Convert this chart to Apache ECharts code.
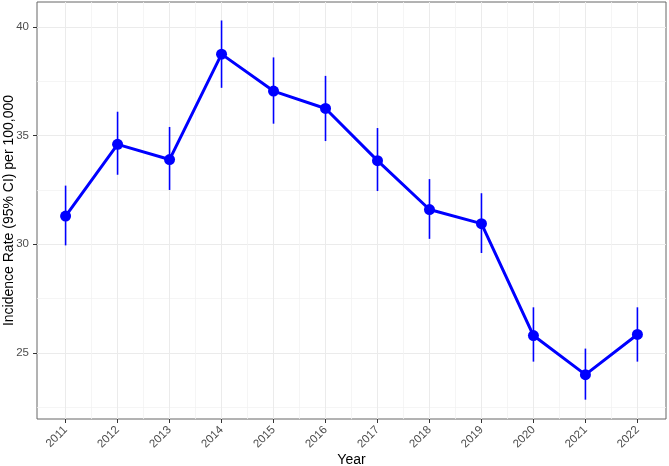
<!DOCTYPE html>
<html>
<head>
<meta charset="utf-8">
<script src="https://cdn.jsdelivr.net/npm/echarts@6/dist/echarts.min.js"></script>
<style>
  html, body { margin: 0; padding: 0; background: #fff; }
  #chart { width: 669px; height: 466px; }
</style>
</head>
<body>
<div id="chart"></div>
<script>
const years = [2011, 2012, 2013, 2014, 2015, 2016, 2017, 2018, 2019, 2020, 2021, 2022]
const rate = [31.3, 34.6, 33.9, 38.75, 37.05, 36.25, 33.85, 31.6, 30.95, 25.8, 24.0, 25.85]
const lower = [29.95, 33.2, 32.5, 37.2, 35.55, 34.75, 32.45, 30.25, 29.6, 24.6, 22.85, 24.6]
const upper = [32.7, 36.1, 35.4, 40.3, 38.6, 37.75, 35.35, 33.0, 32.35, 27.1, 25.2, 27.1]
const yTicks = [25, 30, 35, 40]
const yMinor = [22.5, 27.5, 32.5, 37.5]
const xMinor = years.slice(0, -1).map(y => y + 0.5)

const gridLine = { show: true, lineStyle: { color: '#ebebeb', width: 1 } }
const minorLine = { show: true, lineStyle: { color: '#f2f2f2', width: 0.8 } }
const textFont = 'Liberation Sans, Arial, sans-serif'

const option = {
  animation: false,
  grid: {
    left: 37, right: 3, top: 2, bottom: 47,
    outerBoundsMode: 'none', containLabel: false,
    show: true, borderColor: '#666', borderWidth: 1, z: 0
  },
  xAxis: [
    {
      type: 'value',
      min: 2010.45,
      max: 2022.55,
      name: 'Year',
      nameLocation: 'middle',
      nameMoveOverlap: false,
      nameGap: 34,
      nameTextStyle: { color: '#000', fontSize: 14, fontFamily: textFont },
      axisLine: { show: false },
      axisTick: { show: true, length: 4, customValues: years, lineStyle: { color: '#333' } },
      axisLabel: {
        customValues: years,
        rotate: 45,
        color: '#4d4d4d',
        fontSize: 11.5,
        fontFamily: textFont,
        margin: 9,
        formatter: v => String(v)
      },
      splitLine: gridLine
    },
    {
      type: 'value',
      min: 2010.45,
      max: 2022.55,
      position: 'bottom',
      axisLine: { show: false },
      axisTick: { show: false, customValues: xMinor },
      axisLabel: { show: false, customValues: xMinor },
      splitLine: minorLine
    }
  ],
  yAxis: [
    {
      type: 'value',
      min: 21.96,
      max: 41.15,
      name: 'Incidence Rate (95% CI) per 100,000',
      nameLocation: 'middle',
      nameMoveOverlap: false,
      nameGap: 21,
      nameTextStyle: { color: '#000', fontSize: 14, fontFamily: textFont },
      axisLine: { show: false },
      axisTick: { show: true, length: 4, customValues: yTicks, lineStyle: { color: '#333' } },
      axisLabel: { customValues: yTicks, color: '#4d4d4d', fontSize: 11.5, fontFamily: textFont, margin: 8 },
      splitLine: gridLine
    },
    {
      type: 'value',
      min: 21.96,
      max: 41.15,
      position: 'left',
      axisLine: { show: false },
      axisTick: { show: false, customValues: yMinor },
      axisLabel: { show: false, customValues: yMinor },
      splitLine: minorLine
    }
  ],
  series: [
    {
      type: 'custom',
      xAxisIndex: 0,
      yAxisIndex: 0,
      data: years.map((y, i) => [y, lower[i], upper[i]]),
      renderItem: (params, api) => {
        const p1 = api.coord([api.value(0), api.value(1)])
        const p2 = api.coord([api.value(0), api.value(2)])
        return {
          type: 'line',
          shape: { x1: p1[0], y1: p1[1], x2: p2[0], y2: p2[1] },
          style: { stroke: '#0000ff', lineWidth: 1.6 }
        }
      },
      z: 3
    },
    {
      type: 'line',
      xAxisIndex: 0,
      yAxisIndex: 0,
      data: years.map((y, i) => [y, rate[i]]),
      symbol: 'circle',
      symbolSize: 11,
      itemStyle: { color: '#0000ff' },
      lineStyle: { color: '#0000ff', width: 3 },
      z: 4
    }
  ]
}

const chart = echarts.init(document.getElementById('chart'))
chart.setOption(option)
</script>
</body>
</html>
